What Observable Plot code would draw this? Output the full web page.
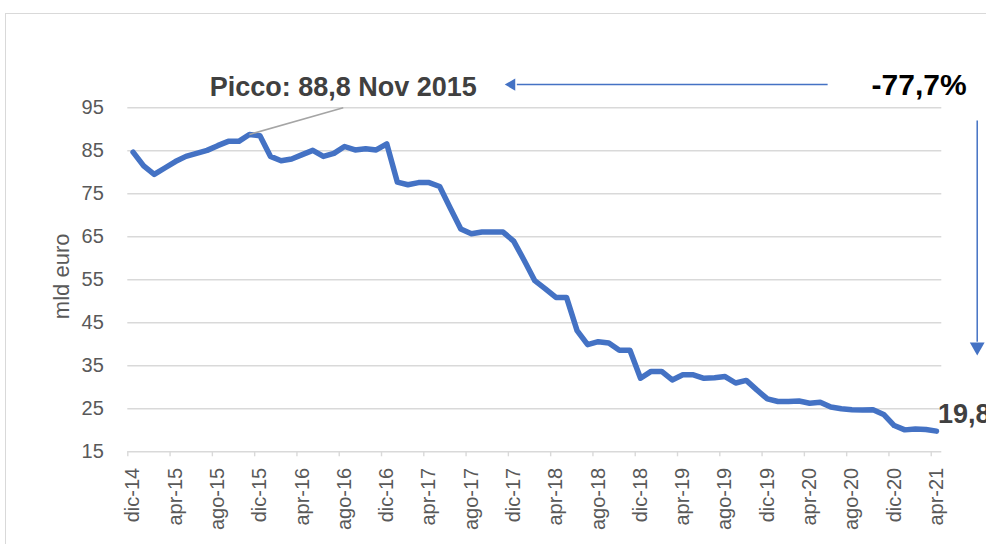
<!DOCTYPE html>
<html><head><meta charset="utf-8">
<script src="https://cdn.jsdelivr.net/npm/d3@7"></script>
<script src="https://cdn.jsdelivr.net/npm/@observablehq/plot@0.6"></script>
<style>
html,body{margin:0;padding:0;background:#fff;}
#wrap{position:relative;width:986px;height:544px;overflow:hidden;}
#frame{position:absolute;left:5px;top:13px;width:1200px;height:800px;border:1px solid #d9d9d9;box-sizing:border-box;}
#chart{position:absolute;left:0;top:0;}
</style></head><body>
<div id="wrap"><div id="frame"></div><div id="chart"></div></div>
<script>
// Monthly values (mld euro), dic-14 .. apr-21
const values = [84.7,81.5,79.5,81.0,82.5,83.7,84.4,85.1,86.2,87.2,
  87.2,88.8,88.5,83.7,82.7,83.1,84.1,85.1,83.7,84.4,
  86.0,85.2,85.5,85.2,86.6,77.7,77.1,77.6,77.6,76.7,
  71.7,66.8,65.7,66.1,66.1,66.1,64.0,59.5,54.8,52.9,
  50.9,50.9,43.2,39.9,40.6,40.3,38.6,38.6,32.1,33.7,
  33.7,31.7,32.9,32.9,32.1,32.2,32.5,31.0,31.6,29.4,
  27.3,26.7,26.7,26.8,26.3,26.5,25.4,25.0,24.8,24.7,
  24.8,23.7,21.1,20.1,20.3,20.2,19.8];
const tickLabels = ["dic-14","apr-15","ago-15","dic-15","apr-16","ago-16","dic-16","apr-17","ago-17","dic-17",
  "apr-18","ago-18","dic-18","apr-19","ago-19","dic-19","apr-20","ago-20","dic-20","apr-21"];
const yTicks = [15,25,35,45,55,65,75,85,95];
const yLabel = "mld euro";
const peakLabel = "Picco: 88,8 Nov 2015";
const changeLabel = "-77,7%";
const lastLabel = "19,8";

const peakIdx = values.indexOf(d3.max(values));
const peak = values[peakIdx];
const data = values.map((v, i) => ({m: i + 0.5, v}));
const tickPos = tickLabels.map((_, k) => 4 * k);
const blue = "#4472C4";

const chart = Plot.plot({
  width: 986, height: 544,
  marginLeft: 127.3, marginRight: 44.7, marginTop: 107.3, marginBottom: 92.7,
  x: {domain: [0, 77], axis: null},
  y: {domain: [15, 95], axis: null},
  style: {fontFamily: "'Liberation Sans', Arial, sans-serif", background: "transparent", overflow: "visible"},
  marks: [
    Plot.ruleY(yTicks, {stroke: "#d9d9d9", strokeWidth: 1.4}),
    Plot.axisX(tickPos, {tickSize: 5, stroke: "#d9d9d9", strokeWidth: 1.4, tickFormat: () => "", label: null}),
    Plot.axisX(tickPos.map(d => d + 0.5), {tickSize: 0, tickRotate: -90, tickPadding: 16, label: null,
      fontSize: 20, fill: "#595959", tickFormat: d => tickLabels[Math.round((d - 0.5) / 4)]}),
    Plot.axisY(yTicks, {tickSize: 0, tickPadding: 24, fontSize: 20, fill: "#595959", label: null}),
    Plot.text([yLabel], {x: -6.27, y: 55.8, rotate: -90, fontSize: 22, fill: "#595959", text: d => d}),
    Plot.line(data, {x: "m", y: "v", stroke: blue, strokeWidth: 5.5, strokeLinejoin: "round", strokeLinecap: "round"}),
    Plot.link([peak], {x1: peakIdx + 0.5, y1: d => d, x2: 20.38, y2: 95, stroke: "#a5a5a5", strokeWidth: 1.5}),
    Plot.text([peakLabel], {x: 20.38, y: 99.86, fontSize: 27, fontWeight: "bold", fill: "#404040", text: d => d}),
    Plot.link([0], {x1: 66.2, y1: 100.4, x2: 36.8, y2: 100.4, stroke: blue, strokeWidth: 1.5}),
    Plot.dot([0], {x: 36.32, y: 100.4, symbol: "triangle", r: 4.5, rotate: -90, fill: blue, stroke: "none"}),
    Plot.text([changeLabel], {x: 74.85, y: 100.1, fontSize: 30, fontWeight: "bold", fill: "#000", text: d => d}),
    Plot.link([0], {x1: 80.35, y1: 92.05, x2: 80.35, y2: 40.6, stroke: blue, strokeWidth: 1.5}),
    Plot.dot([0], {x: 80.35, y: 39.4, symbol: "triangle", r: 5.5, rotate: 180, fill: blue, stroke: "none"}),
    Plot.text([lastLabel], {x: 76.63, y: 23.74, textAnchor: "start", fontSize: 27, fontWeight: "bold", fill: "#404040", text: d => d})
  ]
});
document.getElementById("chart").appendChild(chart);
</script>
</body></html>
